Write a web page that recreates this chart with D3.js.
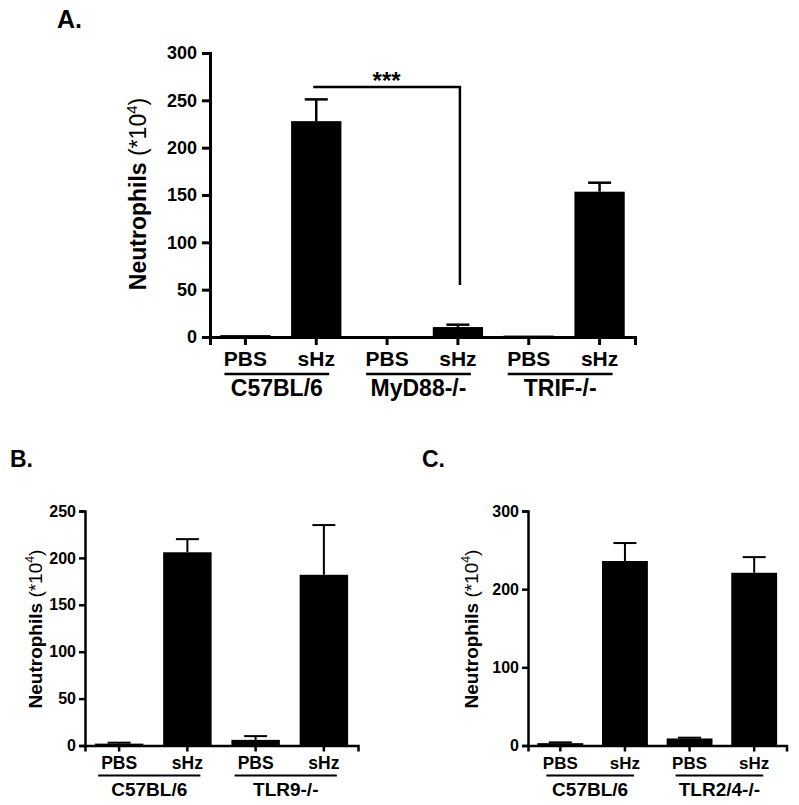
<!DOCTYPE html>
<html>
<head>
<meta charset="utf-8">
<script src="https://cdn.jsdelivr.net/npm/d3@7"></script>
<style>
  body { margin: 0; background: #fff; }
  svg { font-family: "Liberation Sans", Arial, sans-serif; font-weight: bold; }
</style>
</head>
<body>
<div id="fig"></div>
<script>
// treatments shared by every panel
let treatments = ["PBS", "sHz"];

// Panel A
let groupsA = ["C57BL/6", "MyD88-/-", "TRIF-/-"];
let meanA = [2, 228, 0, 10.5, 1.5, 153.5];
let errA = [0, 23, 0, 2.5, 0, 9.5];
let ticksA = [0, 50, 100, 150, 200, 250, 300];

// Panel B
let groupsB = ["C57BL/6", "TLR9-/-"];
let meanB = [2, 206, 6, 182];
let errB = [1, 14, 4, 53];
let ticksB = [0, 50, 100, 150, 200, 250];

// Panel C
let groupsC = ["C57BL/6", "TLR2/4-/-"];
let meanC = [3, 236, 9, 221];
let errC = [1, 23, 1, 20];
let ticksC = [0, 100, 200, 300];

let svg = d3.select("#fig").append("svg")
    .attr("width", 799)
    .attr("height", 805);

let panels = [
    { letter: "A.", lx: 57, ly: 28, lsize: 25,
      groups: groupsA, mean: meanA, err: errA, ticks: ticksA,
      x0: 210, x1: 635, yTop: 53, yBot: 337,
      tickFont: 18, labFont: 21, grpFont: 23, titleFont: 23,
      titleX: 146, titleY: 194, stroke: 3, errStroke: 2.5, cap: 23,
      labY: 366, lineY: 374, grpY: 396, lineL: 21, lineR: 13,
      tickLen: 8, tickPad: 5 },
    { letter: "B.", lx: 10, ly: 467, lsize: 23,
      groups: groupsB, mean: meanB, err: errB, ticks: ticksB,
      x0: 85, x1: 358, yTop: 511, yBot: 745.5,
      tickFont: 16, labFont: 17.5, grpFont: 19, titleFont: 19,
      titleX: 41.5, titleY: 629, stroke: 2.5, errStroke: 2, cap: 23,
      labY: 769, lineY: 775.5, grpY: 796, lineL: 21, lineR: 13,
      tickLen: 6, tickPad: 3 },
    { letter: "C.", lx: 422, ly: 467, lsize: 23,
      groups: groupsC, mean: meanC, err: errC, ticks: ticksC,
      x0: 528, x1: 786.5, yTop: 511, yBot: 745.5,
      tickFont: 16, labFont: 17, grpFont: 19, titleFont: 19,
      titleX: 478, titleY: 629, stroke: 2.5, errStroke: 2, cap: 23,
      labY: 769, lineY: 775.5, grpY: 796, lineL: 14, lineR: 9,
      tickLen: 6, tickPad: 3 }
];

panels.forEach(p => drawPanel(p));

function drawPanel(p) {
    let g = svg.append("g");

    // one entry per bar
    let bars = [];
    p.groups.forEach((grp, gi) => {
        treatments.forEach((t, ti) => {
            let i = gi * treatments.length + ti;
            bars.push({ key: grp + "|" + t, group: grp, treat: t,
                        value: p.mean[i], err: p.err[i] });
        });
    });

    let x = d3.scaleBand()
        .domain(bars.map(d => d.key))
        .range([p.x0, p.x1])
        .paddingInner(0.29)
        .paddingOuter(0.145);

    let y = d3.scaleLinear()
        .domain([0, p.ticks[p.ticks.length - 1]])
        .range([p.yBot, p.yTop]);

    // bars
    g.selectAll(".bar")
        .data(bars)
        .enter().append("rect")
        .attr("class", "bar")
        .attr("x", d => x(d.key))
        .attr("width", x.bandwidth())
        .attr("y", d => y(d.value))
        .attr("height", d => y(0) - y(d.value))
        .attr("fill", "#000");

    // upper error bars
    let eb = g.selectAll(".err")
        .data(bars.filter(d => d.err > 0))
        .enter().append("g")
        .attr("class", "err")
        .attr("stroke", "#000")
        .attr("stroke-width", p.errStroke);
    eb.append("line")
        .attr("x1", d => x(d.key) + x.bandwidth() / 2)
        .attr("x2", d => x(d.key) + x.bandwidth() / 2)
        .attr("y1", d => y(d.value))
        .attr("y2", d => y(d.value + d.err));
    eb.append("line")
        .attr("x1", d => x(d.key) + x.bandwidth() / 2 - p.cap / 2)
        .attr("x2", d => x(d.key) + x.bandwidth() / 2 + p.cap / 2)
        .attr("y1", d => y(d.value + d.err))
        .attr("y2", d => y(d.value + d.err));

    // y axis
    let yAxis = g.append("g")
        .attr("transform", "translate(" + p.x0 + ",0)")
        .call(d3.axisLeft(y).tickValues(p.ticks).tickSizeOuter(0)
            .tickSize(p.tickLen).tickPadding(p.tickPad));
    yAxis.selectAll("path, line").attr("stroke", "#000").attr("stroke-width", p.stroke);
    yAxis.selectAll("text")
        .attr("font-family", "Liberation Sans, Arial, sans-serif")
        .attr("font-weight", "bold")
        .attr("font-size", p.tickFont)
        .attr("fill", "#000");

    // x axis, tick labels drawn separately
    let xAxis = g.append("g")
        .attr("transform", "translate(0," + p.yBot + ")")
        .call(d3.axisBottom(x).tickSizeOuter(0).tickSize(p.tickLen).tickFormat(""));
    xAxis.selectAll("path, line").attr("stroke", "#000").attr("stroke-width", p.stroke);

    g.selectAll(".treat")
        .data(bars)
        .enter().append("text")
        .attr("class", "treat")
        .attr("x", d => x(d.key) + x.bandwidth() / 2)
        .attr("y", p.labY)
        .attr("text-anchor", "middle")
        .attr("font-size", p.labFont)
        .text(d => d.treat);

    // group underline + name
    p.groups.forEach(grp => {
        let first = x(grp + "|" + treatments[0]) + x.bandwidth() / 2 - p.lineL;
        let last = x(grp + "|" + treatments[treatments.length - 1]) + x.bandwidth() / 2 + p.lineR;
        g.append("line")
            .attr("x1", first).attr("x2", last)
            .attr("y1", p.lineY).attr("y2", p.lineY)
            .attr("stroke", "#000")
            .attr("stroke-width", p.stroke - 0.5);
        g.append("text")
            .attr("x", (first + last) / 2)
            .attr("y", p.grpY)
            .attr("text-anchor", "middle")
            .attr("font-size", p.grpFont)
            .text(grp);
    });

    // y axis title
    let title = g.append("text")
        .attr("transform", "translate(" + p.titleX + "," + p.titleY + ") rotate(-90)")
        .attr("text-anchor", "middle")
        .attr("font-size", p.titleFont);
    title.append("tspan").text("Neutrophils ");
    title.append("tspan").attr("font-weight", "normal").text("(*10");
    title.append("tspan").attr("font-weight", "normal")
        .attr("font-size", p.titleFont * 0.65).attr("dy", -p.titleFont * 0.4).text("4");
    title.append("tspan").attr("font-weight", "normal")
        .attr("dy", p.titleFont * 0.4).text(")");

    // panel letter
    svg.append("text")
        .attr("x", p.lx)
        .attr("y", p.ly)
        .attr("font-size", p.lsize)
        .text(p.letter);

    p.x = x;
    p.y = y;
}

// significance bracket in panel A: C57BL/6 sHz vs MyD88-/- sHz
let pA = panels[0];
let xa = k => pA.x(k) + pA.x.bandwidth() / 2;
let left = xa("C57BL/6|sHz") - 3;
let right = xa("MyD88-/-|sHz") + 2;
let yLine = pA.y(264);
svg.append("path")
    .attr("d", "M" + left + "," + yLine + "H" + right + "V" + pA.y(55))
    .attr("fill", "none")
    .attr("stroke", "#000")
    .attr("stroke-width", 2.5);
svg.append("text")
    .attr("x", (left + right) / 2)
    .attr("y", yLine + 2)
    .attr("text-anchor", "middle")
    .attr("font-size", 24)
    .text("***");
</script>
</body>
</html>
